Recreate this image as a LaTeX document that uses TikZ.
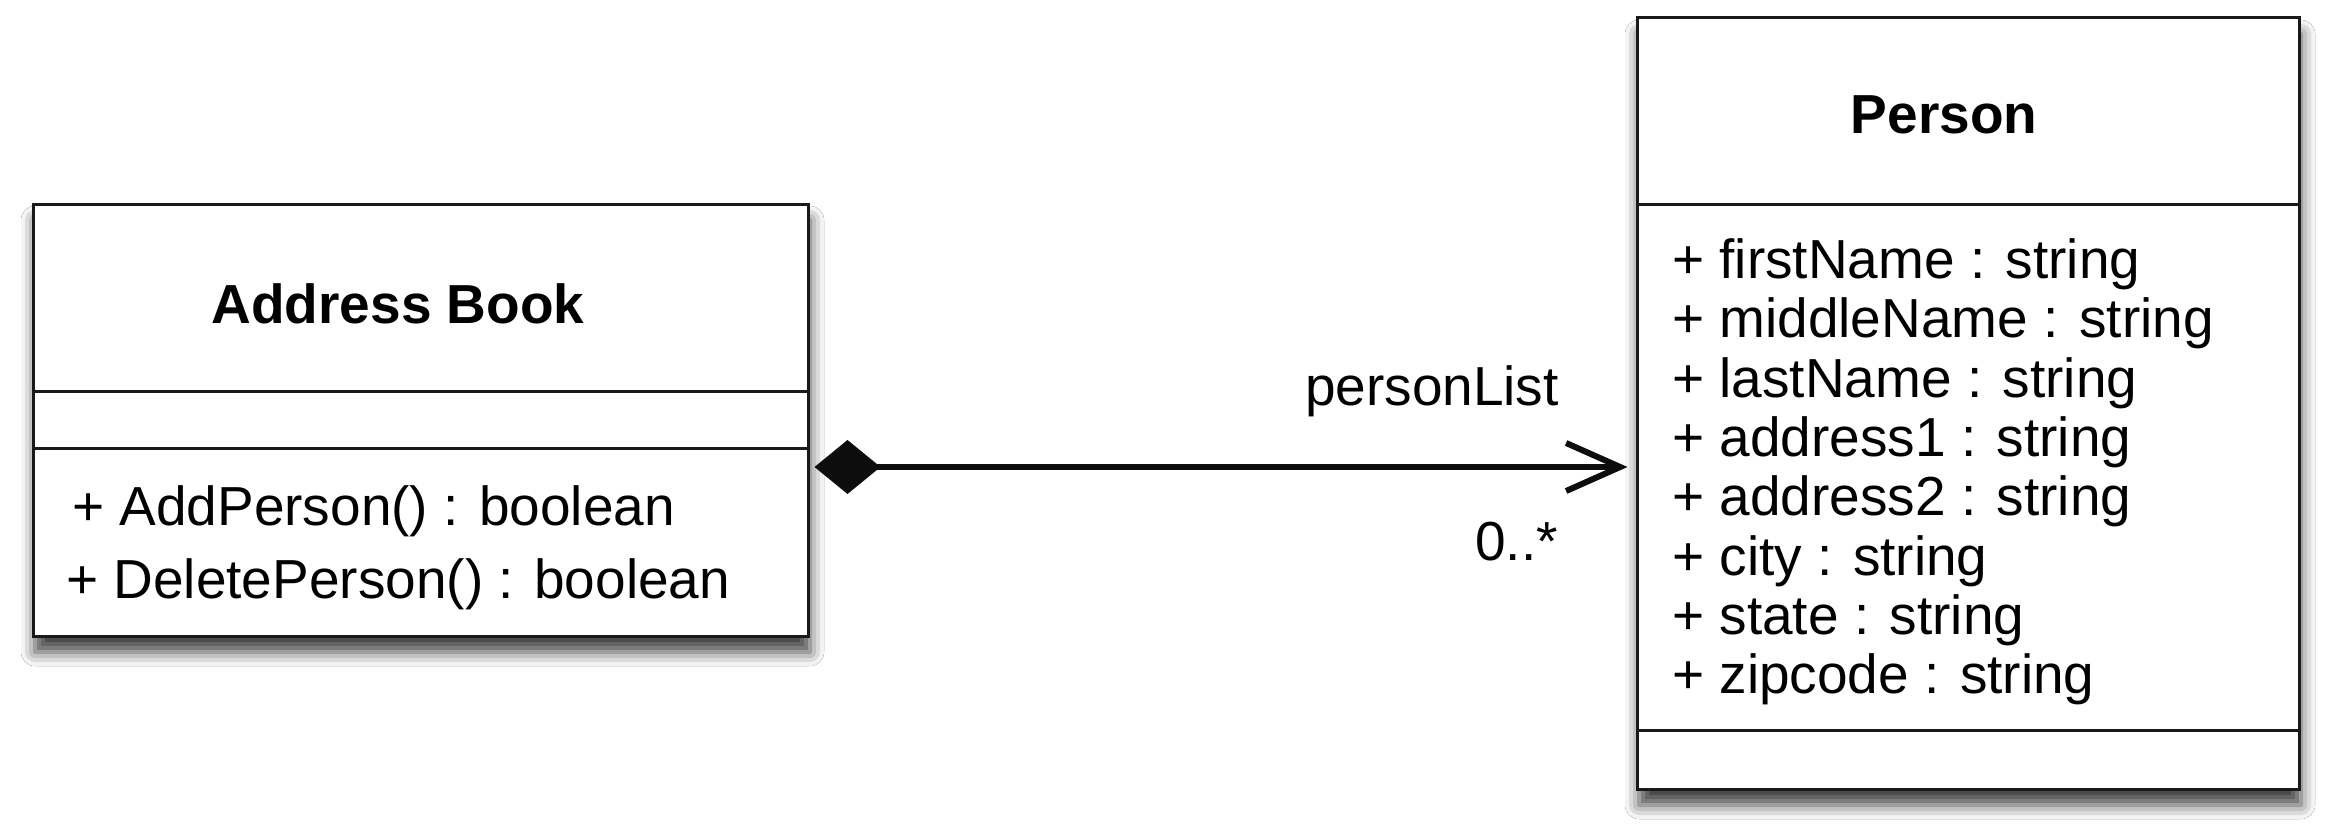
\documentclass[tikz,border=0pt]{standalone}
\usepackage{fontspec}
\setmainfont{Liberation Sans}
\usetikzlibrary{arrows.meta,shadows.blur}
\begin{document}
\begin{tikzpicture}[x=1pt,y=-1pt,
  umlbox/.style={draw=black!90, line width=3pt, fill=white, rectangle, inner sep=0pt,
    blur shadow={shadow xshift=2pt, shadow yshift=-16pt, shadow blur radius=14pt, shadow opacity=75}},
  divider/.style={draw=black!90, line width=3pt},
  lbl/.style={font=\fontsize{55}{66}\selectfont, inner sep=0pt},
  ttl/.style={font=\fontsize{55}{66}\selectfont\bfseries, inner sep=0pt},
  assoc/.style={line width=6pt, draw=black!95,
    {Diamond[length=66pt,width=54pt]}-{Straight Barb[length=54pt,width=48pt]},
    shorten <=5pt, shorten >=8pt}
]
\useasboundingbox (0,0) rectangle (2333,840);
\fill[white] (0,0) rectangle (2333,840);

% Address Book class
\node[umlbox, minimum width=775pt, minimum height=432pt] (ab) at (420.5,420) {};
\coordinate (abd1) at (0,391);
\coordinate (abd2) at (0,448);
\draw[divider] (ab.west |- abd1) -- (ab.east |- abd1);
\draw[divider] (ab.west |- abd2) -- (ab.east |- abd2);
\node[ttl, anchor=base] (abt) at (398,323) {Address Book};
\node[lbl, anchor=base west] (m1) at (72,525) {+ AddPerson() : boolean};
\node[lbl, anchor=base west] (m2) at (66,598) {+ DeletePerson() : boolean};

% Person class
\node[umlbox, minimum width=662pt, minimum height=771pt] (p) at (1968,403.5) {};
\coordinate (pd1) at (0,204);
\coordinate (pd2) at (0,730);
\draw[divider] (p.west |- pd1) -- (p.east |- pd1);
\draw[divider] (p.west |- pd2) -- (p.east |- pd2);
\node[ttl, anchor=base] (pt) at (1944,134) {Person};
\node[lbl, anchor=base west] (a1) at (1672,278.5) {+ firstName : string};
\node[lbl, anchor=base west] (a2) at (1672,337.8) {+ middleName : string};
\node[lbl, anchor=base west] (a3) at (1672,397.1) {+ lastName : string};
\node[lbl, anchor=base west] (a4) at (1672,456.4) {+ address1 : string};
\node[lbl, anchor=base west] (a5) at (1672,515.7) {+ address2 : string};
\node[lbl, anchor=base west] (a6) at (1672,575.0) {+ city : string};
\node[lbl, anchor=base west] (a7) at (1672,634.3) {+ state : string};
\node[lbl, anchor=base west] (a8) at (1672,693.6) {+ zipcode : string};

% Association
\coordinate (cy) at (0,467);
\draw[assoc] (ab.east |- cy) -- (p.west |- cy);
\node[lbl, anchor=base east] (rl) at (1559,405) {personList};
\node[lbl, anchor=base east] (mu) at (1558,560) {0..*};
\end{tikzpicture}
\end{document}
